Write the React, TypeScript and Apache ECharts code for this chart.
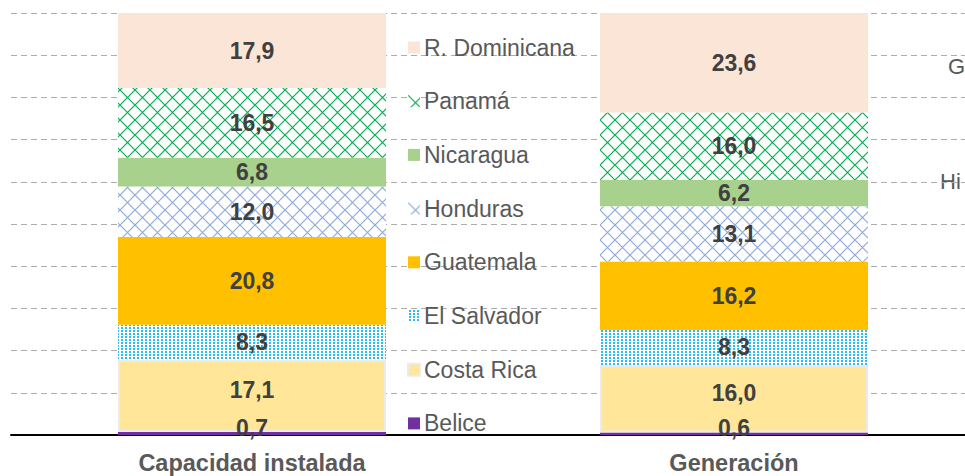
import React, { useEffect, useRef } from "react";
import * as echarts from "echarts";

const categories = ["Capacidad instalada", "Generación"];
const countries = [
  "Belice",
  "Costa Rica",
  "El Salvador",
  "Guatemala",
  "Honduras",
  "Nicaragua",
  "Panamá",
  "R. Dominicana",
];
const belice = [0.7, 0.6];
const costaRica = [17.1, 16.0];
const elSalvador = [8.3, 8.3];
const guatemala = [20.8, 16.2];
const honduras = [12.0, 13.1];
const nicaragua = [6.8, 6.2];
const panama = [16.5, 16.0];
const rDominicana = [17.9, 23.6];
const seriesValues = [belice, costaRica, elSalvador, guatemala, honduras, nicaragua, panama, rDominicana];
const yTicks = { min: 0, max: 100, interval: 10 };
const sideTexts = ["G", "Hi"];

function lattice(color: string, size: number, lw: number) {
  const c = document.createElement("canvas");
  c.width = size;
  c.height = size;
  const ctx = c.getContext("2d")!;
  ctx.fillStyle = "#ffffff";
  ctx.fillRect(0, 0, size, size);
  ctx.strokeStyle = color;
  ctx.lineWidth = lw;
  ctx.beginPath();
  ctx.moveTo(0, 0);
  ctx.lineTo(size, size);
  ctx.moveTo(size, 0);
  ctx.lineTo(0, size);
  ctx.stroke();
  return { image: c, repeat: "repeat" } as any;
}

function dots(color: string, w: number, h: number, dw: number, dh: number) {
  const c = document.createElement("canvas");
  c.width = w;
  c.height = h;
  const ctx = c.getContext("2d")!;
  ctx.fillStyle = "#ffffff";
  ctx.fillRect(0, 0, w, h);
  ctx.fillStyle = color;
  ctx.fillRect(1, 0, dw, dh);
  return { image: c, repeat: "repeat" } as any;
}

export default function App() {
  const ref = useRef<HTMLDivElement>(null);
  useEffect(() => {
    const chart = echarts.init(ref.current!, undefined, { renderer: "svg" });
    const fills: any[] = [
      "#7030A0",
      "#FFE699",
      dots("#29BDF2", 4, 3, 2, 2),
      "#FFC000",
      lattice("#8FAADC", 15, 1.2),
      "#A9D18E",
      lattice("#00B050", 15, 1.2),
      "#FBE5D6",
    ];
    const fmt = (p: any) => Number(p.value).toFixed(1).replace(".", ",");
    const series = countries.map((name, i) => ({
      name,
      type: "bar",
      stack: "total",
      barWidth: 268,
      data: seriesValues[i],
      itemStyle: {
        color: fills[i],
        ...(name === "Costa Rica" ? { borderColor: "#EBEBEB", borderWidth: 2 } : {}),
      },
      label: {
        show: true,
        position: "inside",
        formatter: fmt,
        fontFamily: "Liberation Sans",
        fontWeight: "bold",
        fontSize: 23,
        color: "#404040",
        offset: name === "Costa Rica" || name === "Belice" ? [0, -6] : [0, 0],
      },
    }));
    chart.setOption({
      animation: false,
      backgroundColor: "#ffffff",
      grid: { left: 11, width: 964, top: 13, bottom: 41, containLabel: false },
      legend: {
        orient: "vertical",
        left: 407,
        top: 36,
        padding: 0,
        icon: "rect",
        itemWidth: 12,
        itemHeight: 12,
        itemGap: 30.7,
        data: [...countries].reverse(),
        textStyle: {
          fontFamily: "Liberation Sans",
          fontSize: 23,
          lineHeight: 22,
          color: "#595959",
          padding: [0, 0, 0, -1],
        },
      },
      xAxis: {
        type: "category",
        data: categories,
        axisLine: { lineStyle: { color: "#000000", width: 2 } },
        axisTick: { show: false },
        axisLabel: {
          margin: 16,
          fontFamily: "Liberation Sans",
          fontWeight: "bold",
          fontSize: 23.5,
          color: "#595959",
        },
      },
      yAxis: {
        type: "value",
        min: yTicks.min,
        max: yTicks.max,
        interval: yTicks.interval,
        axisLabel: { show: false },
        axisLine: { show: false },
        axisTick: { show: false },
        splitLine: { lineStyle: { color: "#ADADAD", width: 1, type: [6, 4] } },
      },
      graphic: [
        {
          type: "text",
          left: 948,
          top: 55,
          z: 0,
          style: { text: sideTexts[0], fontFamily: "Liberation Sans", fontSize: 22, fill: "#595959" },
        },
        {
          type: "text",
          left: 940,
          top: 170,
          z: 0,
          style: { text: sideTexts[1], fontFamily: "Liberation Sans", fontSize: 22, fill: "#595959" },
        },
      ],
      series,
    });
    return () => chart.dispose();
  }, []);
  return (
    <div style={{ position: "fixed", left: 0, top: 0, width: 965, height: 476, overflow: "hidden", background: "#fff" }}>
      <div ref={ref} style={{ width: 985, height: 476 }} />
    </div>
  );
}
